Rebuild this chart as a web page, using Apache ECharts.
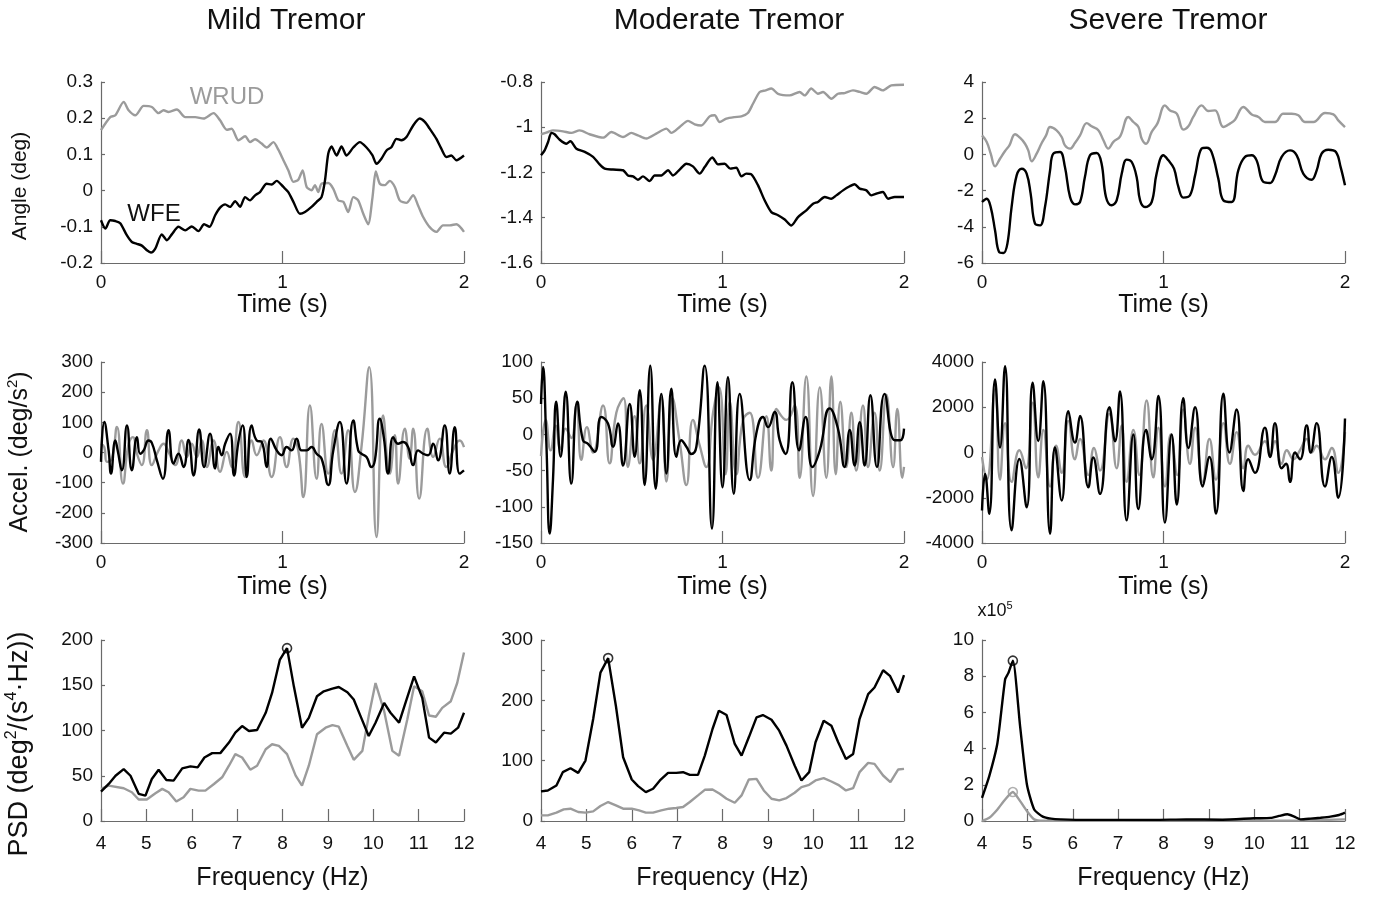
<!DOCTYPE html>
<html>
<head>
<meta charset="utf-8">
<script src="https://cdn.jsdelivr.net/npm/echarts@6/dist/echarts.min.js"></script>
<style>
html,body{margin:0;padding:0;background:#fff;}
#chart{width:1373px;height:899px;}
</style>
</head>
<body>
<div id="chart"></div>
<script>
// ---------------- DATA ----------------
const columnTitles = ['Mild Tremor', 'Moderate Tremor', 'Severe Tremor'];
const timeTicks = [0, 1, 2];
const freqTicks = [4, 5, 6, 7, 8, 9, 10, 11, 12];

// Row 1: angle (deg) vs time (s)
const mildAngleWRUD = [[0,0.167],[0.051,0.203],[0.079,0.208],[0.125,0.245],[0.152,0.222],[0.189,0.208],[0.235,0.234],[0.28,0.231],[0.317,0.214],[0.345,0.222],[0.372,0.217],[0.418,0.224],[0.464,0.203],[0.519,0.203],[0.565,0.199],[0.62,0.214],[0.656,0.194],[0.693,0.168],[0.72,0.171],[0.757,0.139],[0.794,0.15],[0.821,0.134],[0.849,0.142],[0.885,0.13],[0.913,0.119],[0.95,0.134],[0.977,0.113],[1.005,0.084],[1.032,0.056],[1.06,0.024],[1.087,0.03],[1.111,0.056],[1.133,0.01],[1.16,0.001],[1.179,0.015],[1.197,-0.004],[1.215,0.019],[1.252,0.021],[1.28,0.005],[1.307,-0.027],[1.335,-0.031],[1.362,-0.059],[1.39,-0.018],[1.417,-0.027],[1.445,-0.064],[1.472,-0.093],[1.496,-0.018],[1.514,0.053],[1.536,0.019],[1.564,0.015],[1.591,0.027],[1.619,0.01],[1.646,-0.027],[1.683,-0.034],[1.72,-0.013],[1.747,-0.041],[1.775,-0.073],[1.811,-0.101],[1.848,-0.114],[1.884,-0.096],[1.921,-0.096],[1.958,-0.093],[2,-0.114]];
const mildAngleWFE = [[0,-0.082],[0.024,-0.105],[0.051,-0.082],[0.079,-0.084],[0.106,-0.09],[0.143,-0.124],[0.17,-0.142],[0.198,-0.147],[0.225,-0.152],[0.253,-0.165],[0.275,-0.171],[0.299,-0.16],[0.335,-0.121],[0.363,-0.137],[0.39,-0.121],[0.427,-0.1],[0.464,-0.11],[0.5,-0.099],[0.537,-0.112],[0.568,-0.093],[0.598,-0.1],[0.629,-0.068],[0.656,-0.047],[0.684,-0.038],[0.711,-0.045],[0.739,-0.029],[0.766,-0.045],[0.794,-0.018],[0.821,-0.027],[0.849,-0.013],[0.876,-0.004],[0.913,0.019],[0.94,0.017],[0.968,0.027],[1.005,0.01],[1.032,-0.004],[1.06,-0.031],[1.096,-0.064],[1.124,-0.059],[1.16,-0.045],[1.188,-0.031],[1.215,-0.018],[1.234,0.028],[1.252,0.102],[1.27,0.122],[1.298,0.097],[1.325,0.122],[1.353,0.097],[1.39,0.119],[1.426,0.134],[1.463,0.119],[1.496,0.097],[1.518,0.074],[1.545,0.088],[1.573,0.111],[1.6,0.12],[1.628,0.143],[1.655,0.139],[1.683,0.148],[1.72,0.18],[1.756,0.199],[1.784,0.19],[1.811,0.171],[1.848,0.143],[1.875,0.116],[1.903,0.093],[1.93,0.097],[1.958,0.084],[2,0.097]];

const moderateAngleWRUD = [[0,-1.031],[0.039,-1.021],[0.066,-1.014],[0.121,-1.018],[0.167,-1.025],[0.213,-1.014],[0.268,-1.031],[0.342,-1.046],[0.388,-1.021],[0.452,-1.043],[0.498,-1.025],[0.534,-1.036],[0.58,-1.05],[0.635,-1.028],[0.691,-1.006],[0.718,-1.025],[0.764,-0.999],[0.81,-0.972],[0.847,-0.987],[0.883,-0.992],[0.929,-0.952],[0.957,-0.947],[0.984,-0.977],[1.021,-0.962],[1.067,-0.955],[1.104,-0.952],[1.14,-0.937],[1.168,-0.896],[1.205,-0.844],[1.238,-0.837],[1.269,-0.829],[1.306,-0.852],[1.37,-0.859],[1.425,-0.844],[1.453,-0.859],[1.489,-0.829],[1.526,-0.852],[1.554,-0.844],[1.6,-0.874],[1.636,-0.852],[1.673,-0.849],[1.719,-0.837],[1.756,-0.844],[1.793,-0.852],[1.838,-0.822],[1.884,-0.837],[1.93,-0.815],[2,-0.812]];
const moderateAngleWFE = [[0,-1.124],[0.02,-1.102],[0.039,-1.065],[0.057,-1.025],[0.075,-1.031],[0.103,-1.055],[0.14,-1.073],[0.162,-1.062],[0.195,-1.095],[0.241,-1.109],[0.287,-1.131],[0.323,-1.164],[0.351,-1.183],[0.397,-1.187],[0.452,-1.19],[0.479,-1.213],[0.507,-1.217],[0.534,-1.232],[0.562,-1.217],[0.599,-1.238],[0.626,-1.213],[0.663,-1.213],[0.7,-1.19],[0.727,-1.213],[0.764,-1.187],[0.801,-1.161],[0.837,-1.173],[0.874,-1.205],[0.902,-1.176],[0.944,-1.134],[0.975,-1.164],[1.012,-1.161],[1.043,-1.183],[1.076,-1.179],[1.104,-1.217],[1.131,-1.205],[1.159,-1.208],[1.196,-1.257],[1.232,-1.323],[1.269,-1.375],[1.306,-1.389],[1.343,-1.408],[1.379,-1.434],[1.416,-1.397],[1.462,-1.367],[1.499,-1.338],[1.526,-1.33],[1.563,-1.308],[1.6,-1.316],[1.627,-1.301],[1.664,-1.279],[1.701,-1.261],[1.728,-1.252],[1.756,-1.271],[1.793,-1.279],[1.82,-1.301],[1.857,-1.291],[1.884,-1.286],[1.912,-1.316],[1.949,-1.308],[2,-1.308]];

const severeAngleWRUD = [[0,1.05],[0.026,0.69],[0.048,0.04],[0.072,-0.66],[0.099,-0.24],[0.127,0.19],[0.151,0.5],[0.182,1.11],[0.209,0.92],[0.237,0.59],[0.255,0.22],[0.274,-0.38],[0.301,0.04],[0.329,0.63],[0.353,1.05],[0.375,1.51],[0.411,1.33],[0.439,0.96],[0.457,0.5],[0.485,0.32],[0.512,0.63],[0.54,1.05],[0.577,1.73],[0.604,1.55],[0.641,1.33],[0.669,0.78],[0.696,0.32],[0.724,0.69],[0.761,1.0],[0.806,2.07],[0.834,1.79],[0.862,1.51],[0.88,0.87],[0.904,0.59],[0.935,1.24],[0.966,1.7],[1.008,2.71],[1.036,2.43],[1.073,2.25],[1.109,1.37],[1.137,1.55],[1.164,2.07],[1.21,2.71],[1.247,2.4],[1.284,2.43],[1.33,1.51],[1.366,1.7],[1.394,1.92],[1.44,2.62],[1.486,2.21],[1.523,2.07],[1.559,1.79],[1.614,1.79],[1.66,2.25],[1.706,2.25],[1.743,2.16],[1.78,1.79],[1.826,1.79],[1.89,2.29],[1.936,2.21],[1.963,1.88],[2,1.51]];
const severeAngleWFE = [[0,-2.63],[0.026,-2.45],[0.048,-2.91],[0.072,-4.2],[0.094,-5.39],[0.118,-5.45],[0.14,-4.93],[0.163,-2.91],[0.191,-1.16],[0.219,-0.79],[0.246,-1.06],[0.268,-2.17],[0.292,-3.83],[0.32,-3.92],[0.347,-2.91],[0.375,-0.88],[0.393,0.04],[0.43,0.13],[0.457,-0.7],[0.485,-2.35],[0.512,-2.76],[0.54,-2.63],[0.567,-1.25],[0.595,-0.05],[0.632,0.08],[0.659,-0.51],[0.683,-2.35],[0.714,-2.81],[0.742,-2.54],[0.77,-1.06],[0.797,-0.29],[0.825,-0.42],[0.852,-1.25],[0.871,-2.54],[0.898,-2.91],[0.935,-2.63],[0.962,-1.06],[0.999,-0.05],[1.027,-0.33],[1.058,-0.79],[1.082,-1.8],[1.109,-2.39],[1.146,-2.26],[1.174,-1.16],[1.21,0.32],[1.238,0.37],[1.265,0.13],[1.302,-1.34],[1.33,-2.54],[1.376,-2.63],[1.412,-0.88],[1.449,-0.14],[1.486,-0.05],[1.513,-0.33],[1.55,-1.52],[1.587,-1.58],[1.614,-1.16],[1.651,-0.14],[1.697,0.22],[1.734,-0.05],[1.77,-1.06],[1.816,-1.4],[1.844,-0.88],[1.871,0.04],[1.908,0.26],[1.95,0.13],[1.976,-0.7],[2,-1.71]];

// Row 2: acceleration (deg/s^2) vs time (s)
const mildAccelWFE = [[0,-31],[0.018,101],[0.042,7],[0.055,-70],[0.079,40],[0.092,7],[0.115,-59],[0.143,90],[0.17,-59],[0.198,51],[0.216,-4],[0.235,7],[0.262,40],[0.28,32],[0.308,-26],[0.341,-87],[0.372,74],[0.4,-37],[0.427,-4],[0.455,-48],[0.482,42],[0.51,-76],[0.541,76],[0.568,-48],[0.601,62],[0.629,-53],[0.647,18],[0.665,-9],[0.684,29],[0.711,62],[0.733,-76],[0.757,35],[0.781,90],[0.803,-81],[0.83,90],[0.858,40],[0.885,35],[0.913,-48],[0.935,46],[0.968,7],[0.995,-9],[1.023,18],[1.05,7],[1.078,46],[1.105,7],[1.133,7],[1.16,18],[1.188,-4],[1.215,-20],[1.252,-108],[1.28,7],[1.316,101],[1.353,-103],[1.39,106],[1.417,7],[1.435,-4],[1.463,-15],[1.49,-48],[1.509,-26],[1.536,112],[1.558,51],[1.582,-70],[1.61,51],[1.637,29],[1.664,35],[1.692,18],[1.72,-42],[1.747,7],[1.775,-4],[1.802,-9],[1.83,29],[1.857,-26],[1.894,90],[1.921,-70],[1.949,84],[1.976,-70],[2,-59]];
const mildAccelWRUD = [[0,29],[0.018,18],[0.033,-31],[0.06,-20],[0.088,85],[0.121,-103],[0.152,29],[0.176,51],[0.198,-4],[0.225,-42],[0.253,74],[0.28,-42],[0.317,7],[0.345,29],[0.372,2],[0.409,-42],[0.445,40],[0.473,-15],[0.5,29],[0.528,-15],[0.555,40],[0.583,-48],[0.62,40],[0.656,-64],[0.693,2],[0.72,-48],[0.757,101],[0.794,-81],[0.83,40],[0.858,-9],[0.895,40],[0.94,-81],[0.986,51],[1.023,-48],[1.06,46],[1.087,7],[1.115,-148],[1.151,156],[1.188,-87],[1.215,95],[1.252,-70],[1.289,74],[1.325,-70],[1.362,74],[1.399,-131],[1.435,18],[1.478,283],[1.518,-280],[1.554,123],[1.591,-70],[1.619,57],[1.637,-103],[1.674,79],[1.7,-20],[1.72,79],[1.753,-153],[1.798,79],[1.83,-15],[1.866,46],[1.903,-48],[1.94,7],[1.976,40],[2,18]];

const moderateAccelWFE = [[0,42],[0.011,93],[0.029,-8],[0.048,-137],[0.066,-63],[0.084,45],[0.108,-31],[0.136,59],[0.167,-68],[0.2,45],[0.231,-8],[0.259,-13],[0.296,-24],[0.332,24],[0.369,15],[0.397,-17],[0.424,15],[0.452,-43],[0.489,42],[0.516,-31],[0.544,61],[0.571,-70],[0.602,95],[0.632,-75],[0.663,56],[0.691,-54],[0.718,63],[0.746,-31],[0.773,-8],[0.801,-17],[0.828,-27],[0.856,-17],[0.902,95],[0.942,-130],[0.972,72],[1.0,-73],[1.03,79],[1.062,-82],[1.095,56],[1.15,-63],[1.186,1],[1.223,24],[1.251,10],[1.287,31],[1.315,-8],[1.348,-27],[1.385,72],[1.422,-22],[1.458,24],[1.495,-45],[1.536,-22],[1.591,36],[1.636,8],[1.673,-45],[1.701,6],[1.728,-43],[1.756,17],[1.783,-43],[1.815,54],[1.851,-45],[1.893,56],[1.949,-8],[1.98,-8],[2,8]];
const moderateAccelWRUD = [[0,-30],[0.026,20],[0.053,-22],[0.081,12],[0.107,-20],[0.136,8],[0.167,-5],[0.195,40],[0.222,-35],[0.253,10],[0.287,-25],[0.342,40],[0.378,-40],[0.415,30],[0.455,50],[0.479,-45],[0.516,25],[0.544,-40],[0.58,40],[0.617,-35],[0.663,50],[0.691,-65],[0.724,50],[0.764,-10],[0.801,-70],[0.837,20],[0.874,-15],[0.911,-45],[0.948,30],[0.981,65],[1.017,-55],[1.04,45],[1.076,-55],[1.113,20],[1.15,30],[1.196,-60],[1.242,25],[1.269,-50],[1.297,35],[1.352,20],[1.398,40],[1.425,-60],[1.462,80],[1.499,-85],[1.536,65],[1.572,-60],[1.6,80],[1.624,-55],[1.649,45],[1.682,-45],[1.71,30],[1.737,-50],[1.774,40],[1.802,-45],[1.838,30],[1.866,-50],[1.903,55],[1.94,-45],[1.963,35],[1.991,-60],[2,-45]];

const severeAccelWFE = [[0,-2563],[0.017,-950],[0.04,-2710],[0.072,3224],[0.099,220],[0.127,3810],[0.163,-3440],[0.206,-290],[0.246,-2420],[0.279,3080],[0.31,510],[0.338,3150],[0.375,-3590],[0.402,220],[0.439,-2120],[0.476,1830],[0.512,440],[0.54,1610],[0.586,-1540],[0.613,-220],[0.65,-1830],[0.702,2000],[0.733,500],[0.76,2700],[0.797,-3000],[0.834,800],[0.861,-2500],[0.904,1000],[0.935,-300],[0.972,2500],[1.008,-3100],[1.045,800],[1.073,-2300],[1.109,2400],[1.137,200],[1.174,2000],[1.216,-1500],[1.253,-200],[1.289,-2700],[1.33,2600],[1.363,0],[1.403,1900],[1.44,-1700],[1.467,-300],[1.504,-900],[1.559,1100],[1.587,-200],[1.614,1300],[1.651,-700],[1.675,-500],[1.697,-1300],[1.725,0],[1.752,-300],[1.789,1200],[1.811,0],[1.844,1300],[1.89,-1500],[1.927,-200],[1.963,-2000],[2,1500]];
const severeAccelWRUD = [[0,-200],[0.026,-1200],[0.072,2800],[0.099,-1200],[0.127,1300],[0.163,-1300],[0.206,100],[0.242,-700],[0.279,2200],[0.31,-1100],[0.338,1000],[0.375,-1500],[0.408,300],[0.439,-900],[0.476,1400],[0.512,-300],[0.54,600],[0.586,-1000],[0.617,200],[0.65,-800],[0.702,1700],[0.742,-700],[0.77,1200],[0.797,-1300],[0.834,1000],[0.867,-1000],[0.907,2300],[0.944,-1100],[0.972,1100],[1.008,-1500],[1.04,800],[1.076,-1000],[1.109,1900],[1.146,-500],[1.174,1100],[1.216,-1300],[1.253,600],[1.289,-1200],[1.33,1300],[1.366,-500],[1.403,900],[1.44,-700],[1.467,300],[1.504,-100],[1.559,500],[1.587,-100],[1.614,500],[1.651,-500],[1.679,100],[1.716,-300],[1.752,100],[1.789,600],[1.816,0],[1.844,300],[1.89,-300],[1.927,200],[1.963,-900],[2,900]];

// Row 3: PSD vs frequency (Hz)
const mildPsdWFE = [[4,32.5],[4.17,41],[4.32,50],[4.5,57.4],[4.65,50],[4.83,30],[4.98,28],[5.12,46.4],[5.27,56.7],[5.44,45.3],[5.6,44.6],[5.79,58.1],[5.97,60.3],[6.13,59.2],[6.28,70.2],[6.45,75],[6.63,75],[6.82,86.7],[6.96,97.6],[7.11,104.9],[7.26,99.5],[7.44,100.5],[7.63,119.6],[7.77,141.5],[7.94,178],[8.1,191],[8.25,148.8],[8.43,103.1],[8.58,114],[8.76,137.8],[8.91,143.3],[9.1,146.2],[9.24,148.1],[9.43,142.2],[9.57,134.2],[9.72,115.9],[9.9,94],[10.05,108.6],[10.24,130.5],[10.38,119.6],[10.57,108.6],[10.71,130.5],[10.9,159.8],[11.08,136],[11.23,92.1],[11.38,86.7],[11.56,97.6],[11.71,96.5],[11.87,103.1],[12,119.6]];
const mildPsdWRUD = [[4,35.5],[4.17,39.1],[4.5,36.2],[4.68,31.8],[4.83,23.8],[5.01,23.8],[5.2,30.7],[5.35,35.5],[5.49,31.8],[5.66,21.6],[5.82,26.3],[5.97,35.5],[6.15,33.6],[6.3,33.6],[6.49,40.9],[6.67,48.3],[6.82,61.1],[6.96,73.9],[7.11,70.2],[7.29,56.7],[7.44,61.1],[7.63,79.3],[7.77,84.8],[7.92,83],[8.1,73.9],[8.29,50.1],[8.43,39.1],[8.58,61.1],[8.76,95.8],[8.95,103.1],[9.1,106],[9.24,104.2],[9.43,83],[9.57,67.6],[9.76,77.5],[9.9,115.9],[10.05,152.5],[10.24,121.4],[10.42,77.5],[10.57,72],[10.75,112.2],[10.9,148.8],[11.08,143.3],[11.23,116.6],[11.38,115.2],[11.52,125],[11.71,132.4],[11.85,152.5],[12,186.1]];
const mildPsdPeak = [[8.1, 191]];

const moderatePsdWFE = [[4,49],[4.15,50.6],[4.34,58.9],[4.48,80.9],[4.65,87.5],[4.82,79.8],[4.98,100.2],[5.15,169],[5.31,246],[5.48,270],[5.65,191],[5.81,105.7],[6.0,68.8],[6.14,57.8],[6.31,47.9],[6.47,53.4],[6.62,67.2],[6.8,79.8],[6.98,79.8],[7.13,80.9],[7.28,76.5],[7.46,76.5],[7.61,108.4],[7.78,152.5],[7.92,182.8],[8.09,175.6],[8.27,127.7],[8.42,108.4],[8.58,138.7],[8.75,171.7],[8.89,175.6],[9.08,167.9],[9.25,149.7],[9.41,124.9],[9.59,91.9],[9.74,67.2],[9.91,80.9],[10.05,130.5],[10.23,166.2],[10.4,158],[10.55,130.5],[10.72,102.9],[10.88,111.2],[11.02,169],[11.21,210.3],[11.35,221.3],[11.54,249.9],[11.69,240.6],[11.87,213],[12,241.7]];
const moderatePsdWRUD = [[4,9.4],[4.15,9.4],[4.34,13.8],[4.5,19.3],[4.65,20.4],[4.82,14.9],[4.98,13.8],[5.15,16],[5.31,24.8],[5.48,31.4],[5.65,25.9],[5.81,20.4],[6.0,20.4],[6.16,17.6],[6.31,13.8],[6.47,13.8],[6.65,17.6],[6.82,20.4],[6.98,21.5],[7.13,23.1],[7.28,31.4],[7.46,42.4],[7.61,51.7],[7.78,52.3],[7.94,45.2],[8.09,36.9],[8.27,30.3],[8.42,42.4],[8.58,68.8],[8.75,69.9],[8.91,50.6],[9.08,36.9],[9.25,34.1],[9.41,38],[9.59,46.8],[9.74,56.2],[9.91,60],[10.05,67.2],[10.23,71],[10.4,65.5],[10.55,60],[10.72,50.6],[10.88,54.5],[11.02,80.9],[11.21,96.3],[11.35,94.7],[11.54,75.4],[11.7,64.4],[11.87,85.3],[12,86.4]];
const moderatePsdPeak = [[5.48, 270]];

const severePsdWFE = [[4,128000],[4.16,248000],[4.34,431000],[4.51,783000],[4.58,817000],[4.68,886000],[4.84,523000],[4.99,202000],[5.15,64000],[5.34,24000],[5.52,13000],[5.74,9000],[6.33,6000],[7.79,6000],[8.5,9000],[9.3,7000],[10,15000],[10.36,17000],[10.55,28000],[10.73,37000],[10.88,24000],[11.02,9000],[11.24,13000],[11.46,18000],[11.68,24000],[11.87,33000],[12,46000]];
const severePsdWRUD = [[4,0],[4.16,18000],[4.34,64000],[4.51,119000],[4.68,160000],[4.84,110000],[4.99,55000],[5.15,9000],[5.34,1000],[6,1000],[8,2000],[10,2000],[11,3000],[12,9000]];
const severePsdPeakWFE = [[4.68, 886000]];
const severePsdPeakWRUD = [[4.68, 160000]];

// y-axis ranges per panel: [min, max, tick step]
const yRanges = [
  [-0.2, 0.3, 0.1], [-1.6, -0.8, 0.2], [-6, 4, 2],
  [-300, 300, 100], [-150, 100, 50], [-4000, 4000, 2000],
  [0, 200, 50], [0, 300, 50], [0, 1000000, 200000]
];

// ---------------- CHART ----------------
const FONT = '"Liberation Sans", Arial, Helvetica, sans-serif';
const BLACK = '#000000';
const GRAY = '#9b9b9b';
const AXIS = '#6a6a6a';
const lefts = [101, 541, 982];
const tops = [82, 362, 640];
const W = 363, H = 181;

const grids = [], xAxes = [], yAxes = [], series = [];
for (let r = 0; r < 3; r++) {
  for (let c = 0; c < 3; c++) {
    const i = r * 3 + c;
    grids.push({left: lefts[c], top: tops[r], width: W, height: H, containLabel: false});
    const isFreq = r === 2;
    const xt = isFreq ? freqTicks : timeTicks;
    xAxes.push({
      type: 'value', gridIndex: i,
      min: xt[0], max: xt[xt.length - 1], interval: 1,
      name: isFreq ? 'Frequency (Hz)' : 'Time (s)',
      nameLocation: 'middle', nameGap: [29, 32, 45][r],
      nameTextStyle: {fontSize: 25, color: '#111', fontFamily: FONT},
      axisLine: {show: true, onZero: false, lineStyle: {color: AXIS, width: 1.2}},
      axisTick: {show: true, inside: true, length: 12, lineStyle: {color: AXIS, width: 1.2}},
      splitLine: {show: false},
      axisLabel: {fontSize: 19, color: '#111', fontFamily: FONT, margin: [10, 10, 13][r], showMinLabel: true, showMaxLabel: true}
    });
    const yr = yRanges[i];
    let fmt = v => String(+v.toFixed(2));
    if (i === 7) fmt = v => (Math.round(v) % 100 === 0 ? String(Math.round(v)) : '');
    if (i === 8) fmt = v => String(Math.round(v / 100000));
    yAxes.push({
      type: 'value', gridIndex: i,
      min: yr[0], max: yr[1], interval: yr[2],
      axisLine: {show: true, onZero: false, lineStyle: {color: AXIS, width: 1.2}},
      axisTick: {show: true, inside: true, length: 4, lineStyle: {color: AXIS, width: 1.2}},
      splitLine: {show: false},
      axisLabel: {fontSize: 19, color: '#111', fontFamily: FONT, margin: 8, formatter: fmt, showMinLabel: true, showMaxLabel: true}
    });
  }
}

function line(i, data, color, smooth) {
  series.push({
    type: 'line', xAxisIndex: i, yAxisIndex: i, data: data,
    symbol: 'none', showSymbol: false, smooth: smooth,
    lineStyle: {color: color, width: 2.4}, itemStyle: {color: color},
    z: color === BLACK ? 3 : 2, silent: true
  });
}
function peak(i, data, color) {
  series.push({
    type: 'scatter', xAxisIndex: i, yAxisIndex: i, data: data,
    symbol: 'circle', symbolSize: 9,
    itemStyle: {color: 'rgba(255,255,255,0)', borderColor: color, borderWidth: 1.6},
    z: 5, silent: true
  });
}

line(0, mildAngleWRUD, GRAY, 0.25);
line(0, mildAngleWFE, BLACK, 0.25);
line(1, moderateAngleWRUD, GRAY, 0.25);
line(1, moderateAngleWFE, BLACK, 0.25);
line(2, severeAngleWRUD, GRAY, 0.4);
line(2, severeAngleWFE, BLACK, 0.4);
line(3, mildAccelWFE, BLACK, 0.5);
line(3, mildAccelWRUD, GRAY, 0.5);
line(4, moderateAccelWFE, BLACK, 0.5);
line(4, moderateAccelWRUD, GRAY, 0.5);
line(5, severeAccelWFE, BLACK, 0.5);
line(5, severeAccelWRUD, GRAY, 0.5);
line(6, mildPsdWRUD, GRAY, false);
line(6, mildPsdWFE, BLACK, false);
peak(6, mildPsdPeak, BLACK);
line(7, moderatePsdWRUD, GRAY, false);
line(7, moderatePsdWFE, BLACK, false);
peak(7, moderatePsdPeak, BLACK);
line(8, severePsdWRUD, GRAY, 0.2);
line(8, severePsdWFE, BLACK, 0.2);
peak(8, severePsdPeakWFE, BLACK);
peak(8, severePsdPeakWRUD, GRAY);

function txt(x, y, text, size, color, rot, supSize) {
  const style = {text: text, fontSize: size, fontFamily: FONT, fill: color, align: 'center', verticalAlign: 'middle'};
  if (supSize) {
    style.rich = {
      n: {fontSize: size, fontFamily: FONT, fill: color, lineHeight: size * 1.2},
      sup: {fontSize: supSize, fontFamily: FONT, fill: color, verticalAlign: 'top', lineHeight: size * 0.9}
    };
  }
  return {type: 'text', x: x, y: y, rotation: rot || 0, silent: true, style: style};
}

const graphics = [
  txt(286, 21, columnTitles[0], 30, '#111'),
  txt(729, 21, columnTitles[1], 30, '#111'),
  txt(1168, 21, columnTitles[2], 30, '#111'),
  txt(20, 186, 'Angle (deg)', 21, '#111', Math.PI / 2),
  txt(20, 452, '{n|Accel. (deg/s}{sup|2}{n|)}', 25, '#111', Math.PI / 2, 15),
  txt(20, 744, '{n|PSD (deg}{sup|2}{n|/(s}{sup|4}{n|\u00B7Hz))}', 27, '#111', Math.PI / 2, 16),
  txt(227, 97, 'WRUD', 24, GRAY),
  txt(154, 214, 'WFE', 24, '#111'),
  txt(995, 611, '{n|x10}{sup|5}', 18, '#111', 0, 11)
];

const chart = echarts.init(document.getElementById('chart'), null, {renderer: 'canvas'});
chart.setOption({
  animation: false,
  backgroundColor: '#ffffff',
  textStyle: {fontFamily: FONT},
  grid: grids, xAxis: xAxes, yAxis: yAxes, series: series,
  graphic: graphics
});
</script>
</body>
</html>
